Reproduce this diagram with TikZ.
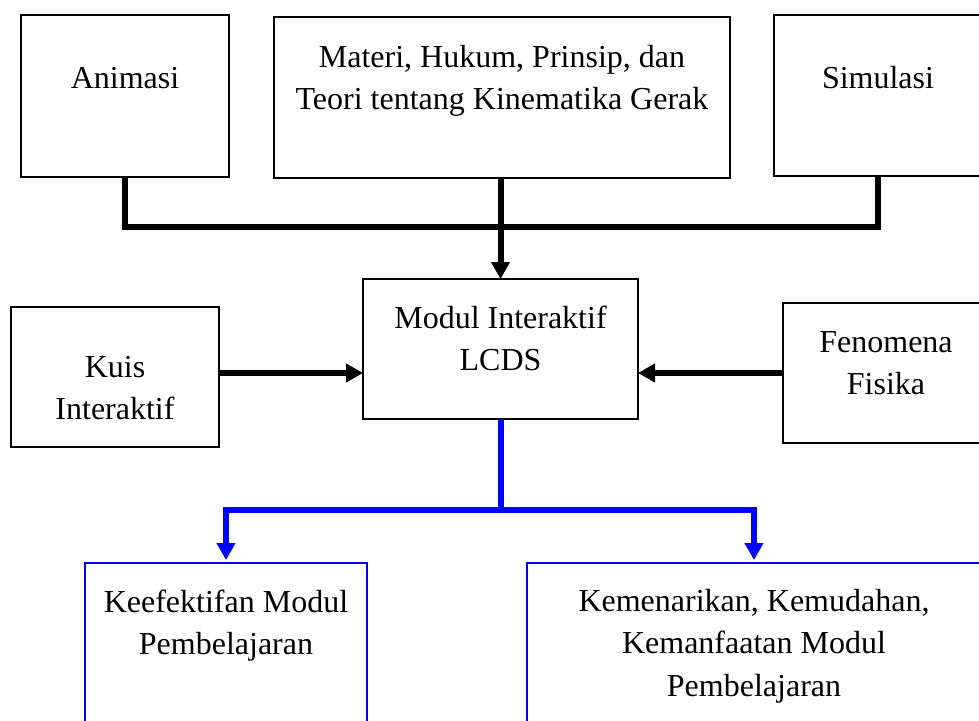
\documentclass[tikz,border=0pt]{standalone}
\usepackage{fontspec}
\setmainfont{Liberation Serif}
\usepackage{tikz}
\usetikzlibrary{arrows.meta}

\newcommand{\boxtext}[4]{\parbox[t][#2][t]{#1}{\centering\vspace*{#3}\strut #4}}

\begin{document}
\begin{tikzpicture}[x=1pt, y=-1pt, every node/.style={draw, line width=1.8pt, inner sep=0pt, outer sep=0pt, anchor=north west, font=\fontsize{32}{42.5}\selectfont}, conn/.style={line width=6pt}, tip/.style={conn, -{Triangle[length=17pt, width=18pt]}}]

    \useasboundingbox (0,0) rectangle (979,720);
    \clip (0,0) rectangle (979,720);

    \node (1) at (21,15) {\boxtext{208pt}{162pt}{44.25pt}{Animasi}};
    
    \node (2) at (274,17) {\boxtext{456pt}{161pt}{20.25pt}{Materi, Hukum, Prinsip, dan\\Teori tentang Kinematika Gerak}};
    
    \node (3) at (774,15) {\boxtext{208pt}{161pt}{44.25pt}{Simulasi}};

    \node (4) at (363,279) {\boxtext{275pt}{140pt}{19.25pt}{Modul Interaktif\\LCDS}};
    
    \node (5) at (11,307) {\boxtext{208pt}{140pt}{40.25pt}{Kuis\\Interaktif}};
    
    \node (6) at (783,303) {\boxtext{206pt}{140pt}{19.25pt}{Fenomena\\Fisika}};

    \node[draw=blue] (7) at (85,563) {\boxtext{282pt}{200pt}{19.25pt}{Keefektifan Modul\\Pembelajaran}};
    
    \node[draw=blue] (8) at (527,563) {\boxtext{454pt}{200pt}{18.25pt}{Kemenarikan, Kemudahan,\\Kemanfaatan Modul\\Pembelajaran}};

    \coordinate (a) at (500.5,227);
    \coordinate (b) at (500.5,510);

    
    \draw[conn] (1.south) |- (a) -| (3.south);
    \draw[tip] (2.south -| 4.north) to (4.north);
    \draw[tip] (5.east |- 6.west) to (4.west |- 6.west);
    \draw[tip] (6.west) to (6.west -| 4.east);

    \draw[blue, tip, shorten >=3pt] (4.south) -- (b) -| (7.north);
    \draw[blue, tip, shorten >=3pt] (b) -| (8.north);

    \end{tikzpicture}
\end{document}
